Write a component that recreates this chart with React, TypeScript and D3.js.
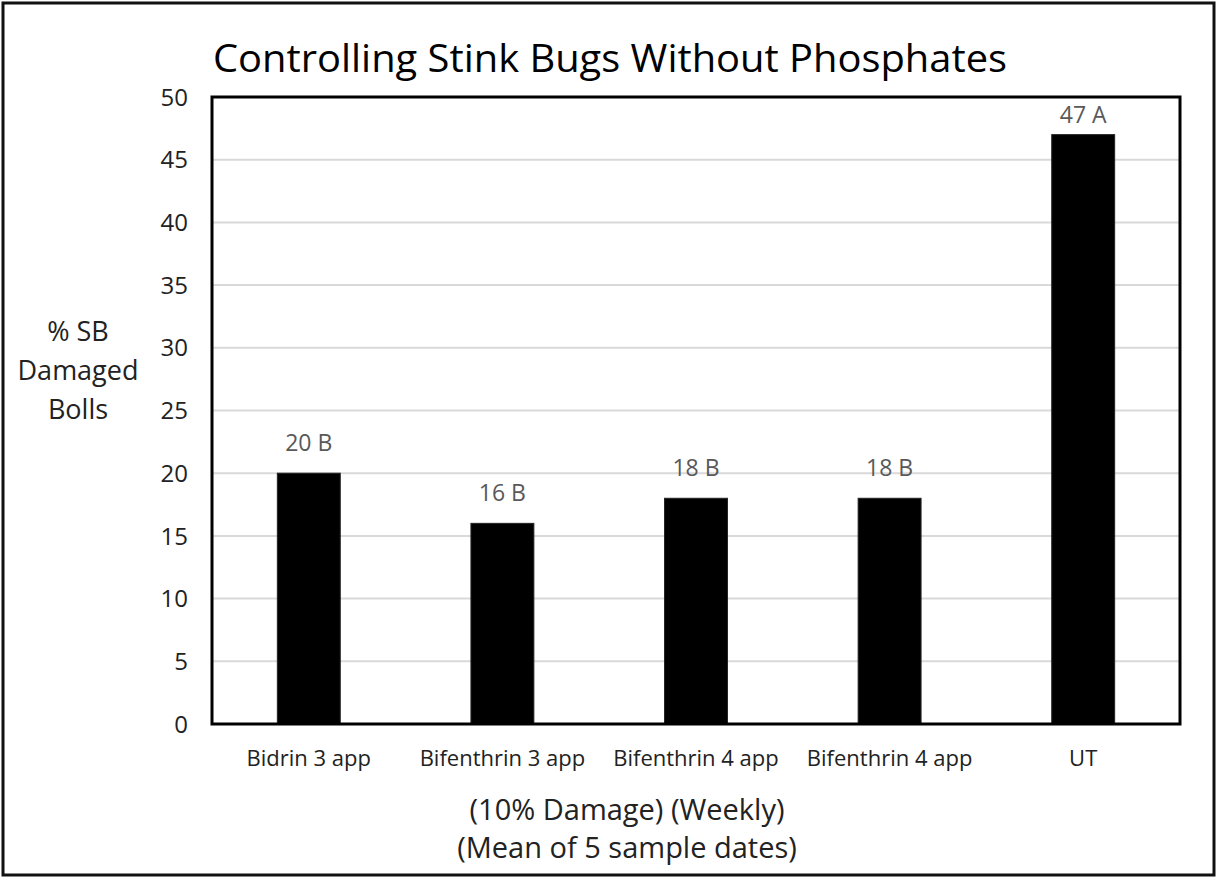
import { useEffect, useRef } from "react";
import * as d3 from "d3";

const categories = ["Bidrin 3 app", "Bifenthrin 3 app", "Bifenthrin 4 app", "Bifenthrin 4 app ", "UT"];
const values = [20, 16, 18, 18, 47];
const letters = ["B", "B", "B", "B", "A"];
const yTicks = [0, 5, 10, 15, 20, 25, 30, 35, 40, 45, 50];

const FONT = "'Open Sans', 'Noto Sans', sans-serif";

const App = () => {
  const ref = useRef<SVGSVGElement>(null);

  useEffect(() => {
    const svg = d3.select(ref.current);
    svg.selectAll("*").remove();

    const width = 1217, height = 878;
    const margin = { top: 97, right: 37, bottom: 154, left: 212 };
    const plotW = width - margin.left - margin.right;
    const plotH = height - margin.top - margin.bottom;

    // outer frame
    svg.append("rect")
      .attr("x", 3).attr("y", 3)
      .attr("width", width - 6).attr("height", height - 6)
      .attr("fill", "white").attr("stroke", "#111").attr("stroke-width", 3);

    svg.append("text")
      .attr("x", 213).attr("y", 72)
      .attr("font-family", FONT).attr("font-size", 38)
      .attr("fill", "#000")
      .attr("textLength", 794).attr("lengthAdjust", "spacingAndGlyphs")
      .text("Controlling Stink Bugs Without Phosphates");

    const g = svg.append("g")
      .attr("transform", `translate(${margin.left},${margin.top})`);

    const x = d3.scaleBand()
      .domain(categories)
      .range([0, plotW])
      .paddingInner(0.675)
      .paddingOuter(0.3375);

    const y = d3.scaleLinear().domain([0, 50]).range([plotH, 0]);

    // gridlines
    g.selectAll("line.grid")
      .data(yTicks.filter(t => t > 0 && t < 50))
      .enter().append("line")
      .attr("class", "grid")
      .attr("x1", 0).attr("x2", plotW)
      .attr("y1", d => y(d)).attr("y2", d => y(d))
      .attr("stroke", "#d9d9d9").attr("stroke-width", 2);

    // y tick labels
    g.selectAll("text.ytick")
      .data(yTicks)
      .enter().append("text")
      .attr("class", "ytick")
      .attr("x", -24).attr("y", d => y(d))
      .attr("dy", "0.36em")
      .attr("text-anchor", "end")
      .attr("font-family", FONT).attr("font-size", 24)
      .attr("fill", "#222")
      .text(d => d);

    // bars
    g.selectAll("rect.bar")
      .data(values)
      .enter().append("rect")
      .attr("class", "bar")
      .attr("x", (d, i) => x(categories[i])!)
      .attr("y", d => y(d))
      .attr("width", x.bandwidth())
      .attr("height", d => plotH - y(d))
      .attr("fill", "#000")
      .attr("stroke", "#222").attr("stroke-width", 1);

    // data labels (kept inside the plot area like Excel does)
    g.selectAll("text.lbl")
      .data(values)
      .enter().append("text")
      .attr("class", "lbl")
      .attr("x", (d, i) => x(categories[i])! + x.bandwidth() / 2)
      .attr("y", d => Math.max(y(d) - 22, 26))
      .attr("text-anchor", "middle")
      .attr("font-family", FONT).attr("font-size", 23)
      .attr("fill", "#595959")
      .text((d, i) => `${d} ${letters[i]}`);

    // plot border
    g.append("rect")
      .attr("x", 0).attr("y", 0)
      .attr("width", plotW).attr("height", plotH)
      .attr("fill", "none").attr("stroke", "#000").attr("stroke-width", 3);

    // x category labels
    g.selectAll("text.xtick")
      .data(categories)
      .enter().append("text")
      .attr("class", "xtick")
      .attr("x", d => x(d)! + x.bandwidth() / 2)
      .attr("y", plotH + 42)
      .attr("text-anchor", "middle")
      .attr("font-family", FONT).attr("font-size", 22)
      .attr("fill", "#222")
      .text(d => d.trim());

    // x axis title
    const xt = svg.append("text")
      .attr("text-anchor", "middle")
      .attr("font-family", FONT).attr("font-size", 29)
      .attr("fill", "#222");
    xt.append("tspan").attr("x", 627).attr("y", 820).text("(10% Damage) (Weekly)");
    xt.append("tspan").attr("x", 627).attr("y", 858).text("(Mean of 5 sample dates)");

    // y axis title
    const yt = svg.append("text")
      .attr("text-anchor", "middle")
      .attr("font-family", FONT).attr("font-size", 27)
      .attr("fill", "#222");
    ["% SB", "Damaged", "Bolls"].forEach((s, i) => {
      yt.append("tspan").attr("x", 78).attr("y", 341 + i * 39).text(s);
    });
  }, []);

  return (
    <svg ref={ref} width={1217} height={878}
      style={{ position: "absolute", left: 0, top: 0 }} />
  );
};

export default App;
